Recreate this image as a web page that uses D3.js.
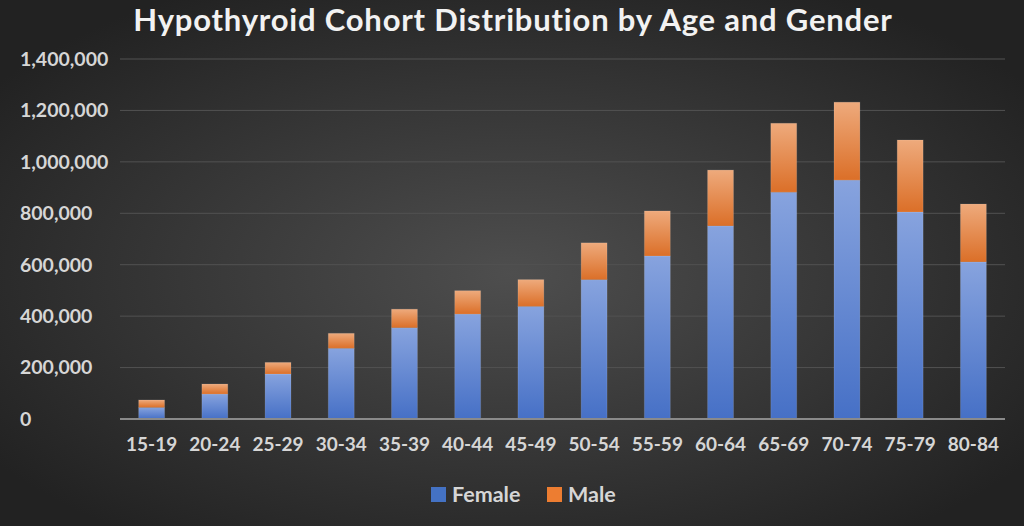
<!DOCTYPE html>
<html><head><meta charset="utf-8">
<script src="https://cdn.jsdelivr.net/npm/d3@7"></script>
<style>html,body{margin:0;padding:0;background:#2a2a2a;overflow:hidden}</style>
</head><body>
<script>
const categories = ["15-19","20-24","25-29","30-34","35-39","40-44","45-49","50-54","55-59","60-64","65-69","70-74","75-79","80-84"];
const female = [45000,97000,175000,275000,355000,408000,438000,542000,634000,751000,882000,929000,805000,611000];
const male   = [29000,39000,45000,58000,72000,91000,104000,143000,175000,217000,268000,303000,280000,225000];
const seriesNames = ["Female","Male"];
const yTicks = [0,200000,400000,600000,800000,1000000,1200000,1400000];
const titleText = "Hypothyroid Cohort Distribution by Age and Gender";

const W = 1024, H = 526;
const m = {left:120, right:19, top:59, bottom:107};
const svg = d3.select("body").append("svg").attr("width",W).attr("height",H);
const defs = svg.append("defs");
const bg = defs.append("radialGradient").attr("id","bg").attr("cx","50%").attr("cy","52%").attr("r","62%");
bg.append("stop").attr("offset","0%").attr("stop-color","#4e4e4e");
bg.append("stop").attr("offset","100%").attr("stop-color","#222222");
function lg(id, top, bottom){
  const g = defs.append("linearGradient").attr("id",id).attr("x1",0).attr("y1",0).attr("x2",0).attr("y2",1);
  g.append("stop").attr("offset","0%").attr("stop-color",top);
  g.append("stop").attr("offset","100%").attr("stop-color",bottom);
}
lg("gF","#87a3de","#4670c6");
lg("gM","#eeaa7c","#db6f28");
svg.append("rect").attr("width",W).attr("height",H).attr("fill","url(#bg)");

const x = d3.scaleBand().domain(categories).range([m.left, W-m.right]).paddingInner(0.59).paddingOuter(0.295);
const y = d3.scaleLinear().domain([0,1400000]).range([H-m.bottom, m.top]);

// gridlines
svg.append("g").selectAll("line").data(yTicks.slice(1)).join("line")
  .attr("x1",m.left).attr("x2",W-m.right).attr("y1",d=>y(d)).attr("y2",d=>y(d))
  .attr("stroke","#525252").attr("stroke-width",1);

const data = categories.map((c,i)=>({cat:c, Female:female[i], Male:male[i]}));
const stack = d3.stack().keys(seriesNames)(data);
const fills = {Female:"url(#gF)", Male:"url(#gM)"};
svg.append("g").selectAll("g").data(stack).join("g")
  .attr("fill",d=>fills[d.key])
  .selectAll("rect").data(d=>d).join("rect")
  .attr("x",d=>x(d.data.cat)).attr("width",x.bandwidth())
  .attr("y",d=>y(d[1])).attr("height",d=>y(d[0])-y(d[1]))
  .attr("stroke","rgba(255,255,255,0.12)").attr("stroke-width",1);

// x axis line
svg.append("line").attr("x1",m.left).attr("x2",W-m.right).attr("y1",y(0)).attr("y2",y(0))
  .attr("stroke","#8a8a8a").attr("stroke-width",2);

const fontFam = "Lato, 'Open Sans', sans-serif";
// y labels (left-aligned)
const fmt = d3.format(",");
svg.append("g").selectAll("text").data(yTicks).join("text")
  .attr("x",20).attr("y",d=>y(d)).attr("dy","0.35em")
  .attr("font-family",fontFam).attr("font-weight","bold").attr("font-size",19.5)
  .attr("fill","#d6d6d6").text(d=>fmt(d));

// x labels
svg.append("g").selectAll("text").data(categories).join("text")
  .attr("x",d=>x(d)+x.bandwidth()/2).attr("y",451)
  .attr("text-anchor","middle")
  .attr("font-family",fontFam).attr("font-weight","bold").attr("font-size",19)
  .attr("fill","#d6d6d6").text(d=>d);

// title
svg.append("text").attr("x",513).attr("y",31).attr("text-anchor","middle")
  .attr("font-family",fontFam).attr("font-weight","bold").attr("font-size",31)
  .attr("letter-spacing","0.8px")
  .attr("fill","#f2f2f2").text(titleText);

// legend
const legX = [431, 547];
const legColors = {Female:"#4472c4", Male:"#ed7d31"};
const leg = svg.append("g").selectAll("g").data(seriesNames).join("g")
  .attr("transform",(d,i)=>`translate(${legX[i]},487)`);
leg.append("rect").attr("width",15).attr("height",15).attr("fill",d=>legColors[d]);
leg.append("text").attr("x",21).attr("y",7.5).attr("dy","0.36em")
  .attr("font-family",fontFam).attr("font-weight","bold").attr("font-size",21.5)
  .attr("fill","#d6d6d6").text(d=>d);
</script>
</body></html>
